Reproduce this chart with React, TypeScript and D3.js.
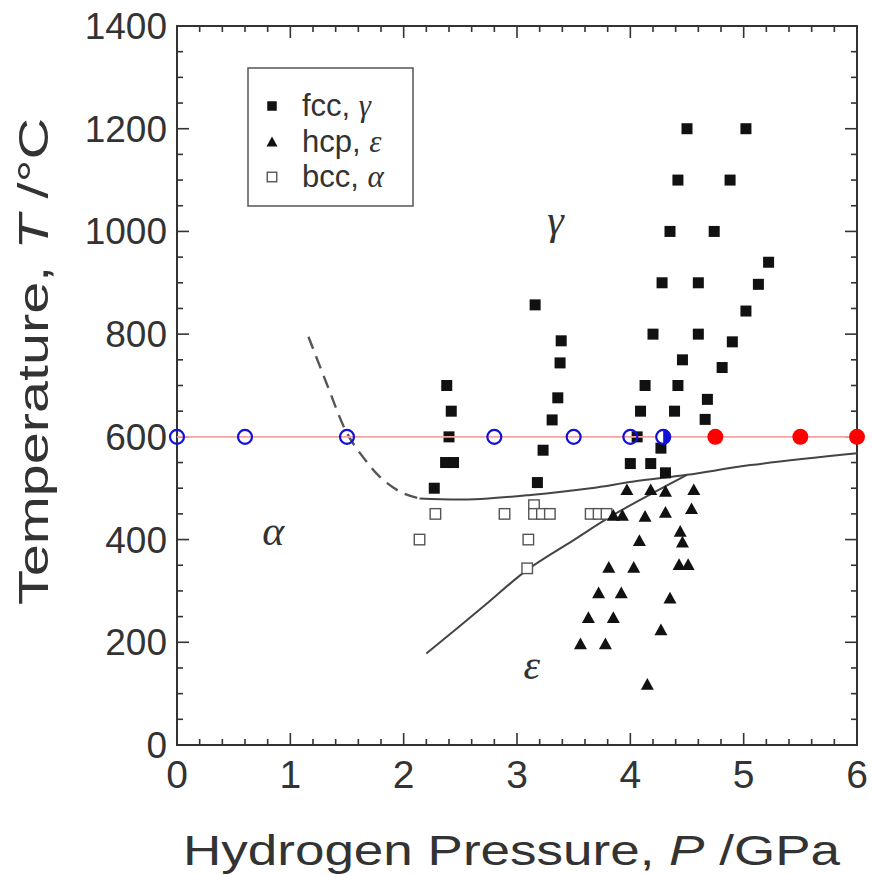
import * as d3 from "d3";

const width = 872;
const height = 875;
const margin = { left: 177, right: 15, top: 26, bottom: 130 };

// pressure (GPa), temperature (°C)
const fccPoints: [number, number][] = [
  [2.27, 500], [2.38, 700], [2.42, 650], [2.40, 600], [2.37, 550], [2.44, 550],
  [3.16, 857], [3.39, 787], [3.38, 744], [3.36, 676], [3.31, 633], [3.23, 574], [3.18, 511],
  [4.50, 1200], [5.02, 1200], [4.42, 1100], [4.88, 1100], [4.35, 1000], [4.74, 1000],
  [5.22, 940], [4.28, 900], [4.60, 900], [5.13, 897], [5.02, 845], [4.20, 800], [4.60, 800],
  [4.90, 785], [4.81, 735], [4.46, 750], [4.13, 700], [4.42, 700], [4.68, 673], [4.09, 650],
  [4.39, 650], [4.66, 634], [4.06, 600], [4.27, 578], [4.00, 548], [4.18, 548], [4.31, 530],
];

const hcpPoints: [number, number][] = [
  [3.97, 498], [4.18, 498], [4.31, 495], [4.56, 498], [4.54, 461], [4.31, 454], [4.13, 446],
  [3.85, 448], [3.93, 448], [4.08, 399], [4.44, 417], [4.46, 396], [4.43, 352], [4.51, 352],
  [3.81, 347], [4.03, 347], [3.72, 297], [3.92, 297], [4.35, 287], [3.63, 249], [3.85, 249],
  [4.27, 225], [3.56, 198], [3.78, 198], [4.15, 119],
];

const bccPoints: [number, number][] = [
  [2.28, 450], [2.14, 400], [2.89, 450], [3.15, 467], [3.15, 450], [3.22, 450], [3.29, 450],
  [3.10, 400], [3.09, 344], [3.65, 450], [3.72, 450], [3.79, 450],
];

const dashedBoundary: [number, number][] = [
  [1.16, 795], [1.32, 704], [1.50, 607], [1.64, 561], [1.79, 522], [1.97, 493], [2.14, 480],
];
const gammaBoundary: [number, number][] = [
  [2.14, 480], [2.56, 478], [3.12, 487], [3.65, 500], [4.03, 513], [4.50, 526], [5.06, 545], [6.0, 568],
];
const epsBoundary: [number, number][] = [
  [2.20, 178], [2.70, 269], [3.09, 341], [3.50, 399], [3.85, 448], [4.50, 526],
];

const isotherm = 600;
const openBlue = [0, 0.6, 1.5, 2.8, 3.5, 4.0];
const halfBlue = [4.29];
const filledRed = [4.75, 5.5, 6.0];

const xMajor = d3.range(0, 6.01, 1);
const xMinor = d3.range(0, 6.01, 0.2);
const yMajor = d3.range(0, 1401, 200);
const yMinor = d3.range(0, 1401, 50);

const legendItems = [
  { shape: "fcc", name: "fcc, ", greek: "γ" },
  { shape: "hcp", name: "hcp, ", greek: "ε" },
  { shape: "bcc", name: "bcc, ", greek: "α" },
];

const phaseLabels = [
  { text: "γ", p: 3.34, t: 1019 },
  { text: "α", p: 0.85, t: 412 },
  { text: "ε", p: 3.13, t: 152 },
];

const sans = "'Liberation Sans', Arial, sans-serif";
const serif = "'Liberation Serif', 'Times New Roman', serif";
const ink = "#333";

function Square({ x, y, s, filled }: { x: number; y: number; s: number; filled: boolean }) {
  return (
    <rect
      x={x - s / 2}
      y={y - s / 2}
      width={s}
      height={s}
      fill={filled ? "#111" : "white"}
      stroke={filled ? "none" : "#555"}
      strokeWidth={1.4}
    />
  );
}

function Tri({ x, y, s }: { x: number; y: number; s: number }) {
  const h = s * 0.9;
  return <path d={`M${x},${y - h / 2}L${x + s / 2},${y + h / 2}L${x - s / 2},${y + h / 2}Z`} fill="#111" />;
}

function App() {
  const x = d3.scaleLinear().domain([0, 6]).range([margin.left, width - margin.right]);
  const y = d3.scaleLinear().domain([0, 1400]).range([height - margin.bottom, margin.top]);
  const line = d3.line<[number, number]>().x((d) => x(d[0])).y((d) => y(d[1])).curve(d3.curveCatmullRom);
  const halfArc = d3.arc()({ innerRadius: 0, outerRadius: 7.5, startAngle: 0, endAngle: Math.PI }) as string;

  const x0 = x(0), x1 = x(6), y0 = y(0), y1 = y(1400);

  return (
    <svg width={width} height={height} style={{ position: "absolute", left: 0, top: 0, background: "white" }}>
      {/* frame */}
      <rect x={x0} y={y1} width={x1 - x0} height={y0 - y1} fill="none" stroke={ink} strokeWidth={2} />
      {/* ticks, inward on all sides */}
      {xMinor.map((v) => {
        const major = Math.abs(v - Math.round(v)) < 1e-6;
        const len = major ? 12 : 6;
        return (
          <g key={"xt" + v} stroke={ink} strokeWidth={1.6}>
            <line x1={x(v)} x2={x(v)} y1={y0} y2={y0 - len} />
            <line x1={x(v)} x2={x(v)} y1={y1} y2={y1 + len} />
          </g>
        );
      })}
      {yMinor.map((v) => {
        const major = v % 200 === 0;
        const len = major ? 12 : 6;
        return (
          <g key={"yt" + v} stroke={ink} strokeWidth={1.6}>
            <line x1={x0} x2={x0 + len} y1={y(v)} y2={y(v)} />
            <line x1={x1} x2={x1 - len} y1={y(v)} y2={y(v)} />
          </g>
        );
      })}
      {xMajor.map((v) => (
        <text key={"xl" + v} x={x(v)} y={y0 + 43} textAnchor="middle" fontFamily={sans} fontSize={39} fill={ink}>
          {v}
        </text>
      ))}
      {yMajor.map((v) => (
        <text key={"yl" + v} x={x0 - 10} y={y(v) + 13} textAnchor="end" fontFamily={sans} fontSize={37} fill={ink}>
          {v}
        </text>
      ))}
      <text
        x={183}
        y={height - 10}
        textLength={657}
        lengthAdjust="spacingAndGlyphs"
        fontFamily={sans}
        fontSize={43}
        fill={ink}
      >
        Hydrogen Pressure, <tspan fontStyle="italic">P</tspan> /GPa
      </text>
      <text
        transform={`translate(48,605) rotate(-90)`}
        textLength={487}
        lengthAdjust="spacingAndGlyphs"
        fontFamily={sans}
        fontSize={43}
        fill={ink}
      >
        Temperature, <tspan fontStyle="italic">T</tspan> /°C
      </text>

      {/* phase boundaries */}
      <path d={line(dashedBoundary) ?? ""} fill="none" stroke="#555" strokeWidth={2.4} strokeDasharray="13,8" />
      <path d={line(gammaBoundary) ?? ""} fill="none" stroke="#444" strokeWidth={2} />
      <path d={line(epsBoundary) ?? ""} fill="none" stroke="#444" strokeWidth={2} />

      {/* data */}
      {bccPoints.map((d, i) => (
        <Square key={"b" + i} x={x(d[0])} y={y(d[1])} s={10.5} filled={false} />
      ))}
      {fccPoints.map((d, i) => (
        <Square key={"f" + i} x={x(d[0])} y={y(d[1])} s={11} filled />
      ))}
      {hcpPoints.map((d, i) => (
        <Tri key={"h" + i} x={x(d[0])} y={y(d[1])} s={13} />
      ))}

      {phaseLabels.map((l) => (
        <text key={l.text} x={x(l.p)} y={y(l.t) + 12} textAnchor="middle" fontFamily={serif} fontStyle="italic" fontSize={42} fill={ink}>
          {l.text}
        </text>
      ))}

      {/* legend */}
      <rect x={248} y={68} width={165} height={138} fill="white" stroke="#555" strokeWidth={1.5} />
      {legendItems.map((it, i) => {
        const cy = 106 + i * 35.5;
        return (
          <g key={it.shape}>
            {it.shape === "hcp" ? (
              <Tri x={272} y={cy} s={11} />
            ) : (
              <Square x={272} y={cy} s={9.5} filled={it.shape === "fcc"} />
            )}
            <text x={302} y={cy + 10} fontFamily={sans} fontSize={31} fill={ink}>
              {it.name}
              <tspan fontFamily={serif} fontStyle="italic">{it.greek}</tspan>
            </text>
          </g>
        );
      })}

      {/* 600 °C isotherm */}
      <path d={line([[0, isotherm], [6, isotherm]]) ?? ""} stroke="#f4a3a3" strokeWidth={1.6} fill="none" />
      {openBlue.map((p) => (
        <circle key={"ob" + p} cx={x(p)} cy={y(isotherm)} r={7} fill="none" stroke="#1010d8" strokeWidth={2.2} />
      ))}
      {halfBlue.map((p) => (
        <g key={"hb" + p} transform={`translate(${x(p)},${y(isotherm)})`}>
          <circle r={7} fill="white" stroke="#1010d8" strokeWidth={2.2} />
          <path d={halfArc} fill="#1010d8" />
        </g>
      ))}
      {filledRed.map((p) => (
        <circle key={"r" + p} cx={x(p)} cy={y(isotherm)} r={8} fill="#f00" />
      ))}
    </svg>
  );
}

export default App;
